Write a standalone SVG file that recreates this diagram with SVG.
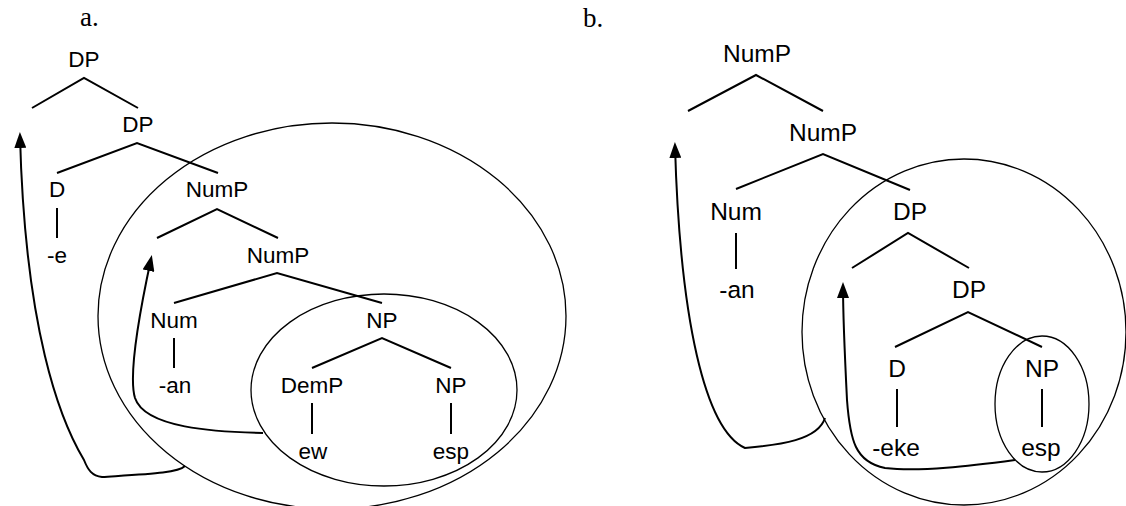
<svg xmlns="http://www.w3.org/2000/svg" width="1126" height="506" viewBox="0 0 1126 506">
<defs>
<style>
.t{font-family:"Liberation Sans",Arial,sans-serif;text-anchor:middle;fill:#000}
.a{font-size:22.5px}
.b{font-size:24.5px}
.lbl{font-family:"Liberation Serif","Times New Roman",serif;font-size:27px;fill:#000}
.br{fill:none;stroke:#000;stroke-width:2}
.el{fill:none;stroke:#000;stroke-width:1.3}
.mv{fill:none;stroke:#000;stroke-width:2;marker-end:url(#ah)}
</style>
<marker id="ah" markerUnits="userSpaceOnUse" markerWidth="16" markerHeight="12" viewBox="0 0 16 12" refX="12" refY="6" orient="auto">
<path d="M0,0 L16,6 L0,12 z" fill="#000"/>
</marker>
</defs>
<rect width="1126" height="506" fill="#fff"/>
<text class="lbl" x="80" y="26">a.</text>
<text class="lbl" x="583" y="27">b.</text>

<g id="treeA-ellipses">
<ellipse id="a-outer" class="el" cx="332" cy="316" rx="234" ry="193"/>
<ellipse id="a-inner" class="el" cx="384" cy="390" rx="133" ry="96"/>
</g>
<g id="treeB-ellipses">
<ellipse id="b-outer" class="el" cx="964" cy="332" rx="162" ry="173"/>
<ellipse id="b-inner" class="el" cx="1042" cy="404" rx="47" ry="68"/>
</g>

<g id="connectors">
<!-- tree a branches -->
<path class="br" d="M32,108 L84,78 L138,108"/>
<path class="br" d="M57,173 L137,143 L218,173"/>
<path class="br" d="M57,208 L57,238"/>
<path class="br" d="M157,238 L217,209 L278,238"/>
<path class="br" d="M174,303 L277,273 L382,303"/>
<path class="br" d="M174,338 L174,368"/>
<path class="br" d="M312,368 L382,338 L451,368"/>
<path class="br" d="M312,403 L312,434"/>
<path class="br" d="M451,403 L451,434"/>
<!-- tree b branches -->
<path class="br" d="M688,111 L756,75 L823,111"/>
<path class="br" d="M736,189 L823,154 L910,190"/>
<path class="br" d="M736,233 L736,269"/>
<path class="br" d="M852,268 L908,233 L969,268"/>
<path class="br" d="M895,347 L968,312 L1042,347"/>
<path class="br" d="M897,389 L897,427"/>
<path class="br" d="M1042,389 L1042,427"/>
<!-- movement arrows -->
<path class="mv" d="M185,466 C178,473 150,474 102,477 C92,476 88,470 84,460 C60,420 25,330 20,136"/>
<path class="mv" d="M263,433 C215,432 145,428 135,398 C128,375 140,310 151,259"/>
<path class="mv" d="M825,418 C818,440 780,445 745,448 C705,430 680,320 675,146"/>
<path class="mv" d="M1015,460 C970,466 920,472 885,468 C855,462 850,440 847,400 C845,360 843,320 843,286"/>
</g>

<g id="a-DP"><text class="t a" x="84" y="67">DP</text></g>
<g id="a-DP2"><text class="t a" x="138" y="132">DP</text></g>
<g id="a-D"><text class="t a" x="57" y="197">D</text></g>
<g id="a-NumP"><text class="t a" x="217" y="197">NumP</text></g>
<g id="a-e"><text class="t a" x="57" y="263">-e</text></g>
<g id="a-NumP2"><text class="t a" x="278" y="263">NumP</text></g>
<g id="a-Num"><text class="t a" x="174" y="328">Num</text></g>
<g id="a-NP"><text class="t a" x="382" y="328">NP</text></g>
<g id="a-an"><text class="t a" x="175" y="393">-an</text></g>
<g id="a-DemP"><text class="t a" x="312" y="393">DemP</text></g>
<g id="a-NP2"><text class="t a" x="451" y="393">NP</text></g>
<g id="a-ew"><text class="t a" x="313" y="459">ew</text></g>
<g id="a-esp"><text class="t a" x="451" y="459">esp</text></g>

<g id="b-NumP"><text class="t b" x="757" y="62">NumP</text></g>
<g id="b-NumP2"><text class="t b" x="823" y="141">NumP</text></g>
<g id="b-Num"><text class="t b" x="736" y="220">Num</text></g>
<g id="b-DP"><text class="t b" x="910" y="220">DP</text></g>
<g id="b-an"><text class="t b" x="737" y="298">-an</text></g>
<g id="b-DP2"><text class="t b" x="969" y="298">DP</text></g>
<g id="b-D"><text class="t b" x="897" y="377">D</text></g>
<g id="b-NP"><text class="t b" x="1042" y="377">NP</text></g>
<g id="b-eke"><text class="t b" x="896" y="456">-eke</text></g>
<g id="b-esp"><text class="t b" x="1041" y="456">esp</text></g>
</svg>
